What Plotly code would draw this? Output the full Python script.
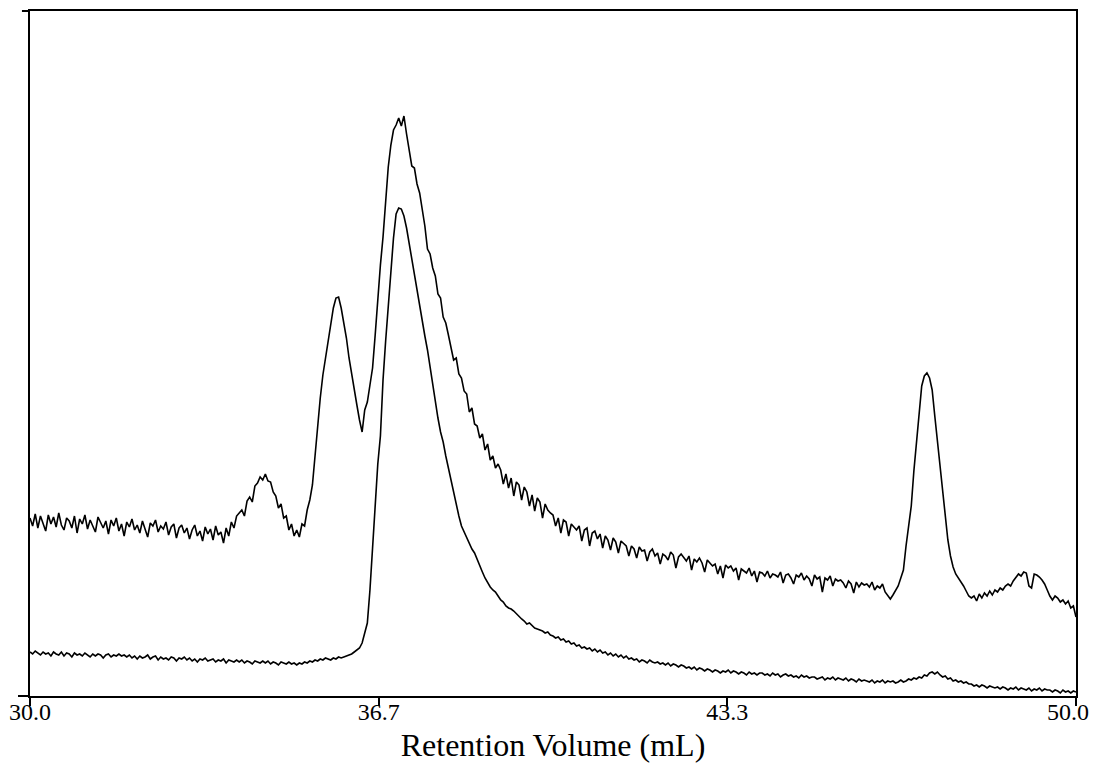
import numpy as np
import plotly.graph_objects as go

# detector traces sampled every 0.05 mL from 30.0 to 50.0 mL (arbitrary response units)
upper_trace = [
    178, 170, 182, 168, 180, 173, 165, 181, 172, 179,
    169, 183, 171, 166, 178, 175, 168, 180, 163, 177,
    172, 181, 167, 176, 170, 164, 179, 173, 168, 175,
    162, 176, 170, 178, 165, 172, 160, 174, 169, 177,
    166, 171, 163, 175, 168, 159, 173, 170, 176, 164,
    170, 167, 174, 161, 169, 172, 158, 168, 171, 163,
    168, 157, 166, 171, 160, 165, 155, 169, 162, 167,
    156, 170, 161, 164, 153, 168, 160, 174, 168, 180,
    183, 186, 180, 195, 199, 194, 210, 213, 219, 216,
    222, 215, 214, 204, 200, 188, 192, 178, 180, 166,
    172, 160, 166, 159, 172, 170, 186, 196, 211, 241,
    270, 298, 321, 338, 354, 371, 388, 398, 399, 388,
    374, 358, 338, 321, 306, 291, 276, 264, 286, 294,
    311, 328, 361, 399, 431, 459, 496, 529, 551, 566,
    571, 578, 570, 580, 562, 548, 530, 528, 512, 503,
    486, 470, 447, 442, 428, 420, 402, 398, 379, 373,
    361, 350, 336, 338, 322, 318, 305, 302, 284, 288,
    272, 270, 258, 262, 246, 252, 236, 240, 228, 232,
    226, 212, 222, 208, 218, 200, 214, 211, 196, 209,
    204, 190, 201, 185, 198, 194, 178, 192, 186, 183,
    181, 170, 178, 163, 176, 174, 160, 172, 169, 166,
    170, 155, 166, 168, 150, 163, 165, 157, 162, 148,
    160, 156, 146, 158, 154, 143, 155, 152, 150, 140,
    150, 147, 138, 149, 145, 146, 135, 144, 147, 140,
    143, 132, 142, 140, 136, 144, 141, 128, 139, 142,
    138, 135, 140, 126, 137, 134, 138, 133, 124, 136,
    133, 130, 132, 122, 130, 118, 131, 128, 130, 125,
    128, 116, 127, 125, 123, 128, 120, 125, 114, 124,
    123, 120, 125, 118, 122, 121, 119, 124, 113, 121,
    122, 118, 112, 121, 119, 123, 116, 120, 117, 110,
    121, 117, 119, 104, 118, 116, 120, 110, 117, 115,
    116, 113, 108, 115, 112, 103, 114, 109, 113, 111,
    112, 109, 114, 106, 110, 108, 112, 104, 100, 97,
    101, 106, 110, 118, 126, 150, 168, 190, 225, 255,
    280, 310, 320, 323, 318, 306, 280, 256, 230, 206,
    180, 156, 140, 129, 122, 118, 115, 110, 105, 100,
    98, 100, 95, 102, 98, 103, 100, 105, 101, 106,
    104, 108, 106, 110, 112, 110, 115, 118, 122, 120,
    124, 123, 110, 108, 122, 121, 119, 116, 112, 106,
    100, 96, 100, 98, 94, 96, 92, 95, 88, 90,
    79,
]

lower_trace = [
    44, 42, 45, 43, 41, 44, 42, 43, 40, 44,
    42, 41, 44, 40, 43, 42, 39, 43, 41, 42,
    40, 43, 41, 39, 42, 40, 42, 41, 38, 41,
    42, 39, 41, 40, 42, 40, 41, 39, 41, 38,
    40, 37, 40, 38, 39, 41, 37, 39, 40, 36,
    39, 37, 38, 36, 39, 38, 35, 38, 37, 39,
    36, 38, 35, 37, 34, 37, 36, 38, 35, 36,
    37, 34, 36, 35, 37, 33, 36, 35, 34, 36,
    34, 36, 33, 35, 34, 32, 35, 34, 33, 35,
    33, 35, 32, 34, 33, 31, 34, 33, 32, 34,
    32, 33, 31, 33, 32, 34, 33, 35, 34, 36,
    35, 37, 36, 38, 37, 36, 38, 37, 39, 38,
    39, 40, 41, 42, 44, 46, 48, 53, 62, 73,
    106, 146, 190, 232, 260, 316, 355, 390, 425, 458,
    482, 488, 487, 480, 468, 452, 436, 420, 404, 390,
    375, 360, 346, 328, 310, 295, 278, 264, 254, 240,
    228, 217, 202, 190, 180, 170, 164, 158, 152, 147,
    143, 136, 129, 124, 118, 113, 109, 106, 104, 100,
    96, 94, 90, 88, 87, 85, 82, 79, 77, 75,
    72, 73, 70, 68, 67, 66, 65, 63, 64, 61,
    60, 58, 59, 56, 57, 54, 55, 52, 53, 50,
    51, 48, 49, 47, 48, 45, 47, 44, 46, 43,
    44, 41, 43, 40, 42, 39, 41, 38, 40, 37,
    38, 36, 37, 34, 36, 35, 33, 36, 34, 33,
    34, 32, 33, 31, 33, 30, 32, 31, 29, 31,
    30, 28, 29, 27, 29, 26, 28, 27, 25, 27,
    26, 24, 26, 25, 23, 25, 24, 26, 23, 25,
    24, 22, 24, 23, 21, 24, 22, 23, 21, 23,
    23, 21, 22, 20, 23, 21, 22, 19, 21, 22,
    20, 21, 19, 20, 18, 21, 19, 20, 18, 19,
    19, 17, 18, 19, 16, 18, 17, 19, 16, 18,
    17, 16, 18, 15, 17, 16, 14, 17, 15, 16,
    15, 14, 16, 13, 15, 14, 16, 13, 15, 14,
    15, 13, 14, 16, 14, 15, 17, 16, 18, 17,
    19, 18, 21, 20, 23, 24, 22, 24, 21, 19,
    20, 17, 18, 15, 16, 14, 15, 13, 14, 12,
    12, 10, 11, 9, 11, 10, 8, 10, 9, 8,
    9, 7, 9, 8, 6, 8, 7, 9, 6, 8,
    7, 6, 8, 5, 7, 6, 8, 5, 7, 6,
    6, 4, 6, 5, 3, 6, 4, 5, 3, 5,
    4,
]

tick_vals = [30.0, 36.667, 43.333, 50.0]
tick_text = ["30.0", "36.7", "43.3", ""]
# last label is drawn separately so it can be nudged inside the page edge
end_label = "50.0"

volume = np.linspace(30.0, 50.0, len(upper_trace))

fig = go.Figure()
for trace in (upper_trace, lower_trace):
    fig.add_trace(go.Scatter(
        x=volume, y=trace, mode="lines",
        line=dict(color="black", width=1.6),
        showlegend=False, hoverinfo="skip",
    ))

# the page body adds an 8px margin, so the figure is sized/margined to compensate
fig.update_layout(
    width=1091, height=755,
    margin=dict(l=22, r=23, t=3, b=67),
    paper_bgcolor="white", plot_bgcolor="white",
    font=dict(family="Liberation Serif, Times New Roman, serif", color="black"),
)
# frame lines overhang the left axis a little, as in the original plot
fig.add_shape(type="line", xref="paper", yref="paper", x0=-0.0077, x1=0, y0=1, y1=1,
              line=dict(color="black", width=2))
fig.add_shape(type="line", xref="paper", yref="paper", x0=-0.0115, x1=0, y0=0, y1=0,
              line=dict(color="black", width=2))
fig.add_annotation(
    x=tick_vals[-1], xref="x", y=0, yref="paper",
    text=end_label, showarrow=False,
    xanchor="center", yanchor="middle", xshift=-8, yshift=-16,
    font=dict(size=24, color="black"),
)
fig.update_xaxes(
    range=[30, 50], tickvals=tick_vals, ticktext=tick_text,
    ticks="outside", ticklen=8, tickwidth=1.5, tickcolor="black",
    tickfont=dict(size=24), ticklabelstandoff=-15, ticklabeloverflow="allow",
    showline=True, linecolor="black", linewidth=2, mirror=True,
    showgrid=False, zeroline=False, automargin=False,
    title=dict(text="Retention Volume (mL)", font=dict(size=32), standoff=24),
)
fig.update_yaxes(
    range=[0, 685], showticklabels=False, ticks="", automargin=False,
    showline=True, linecolor="black", linewidth=2, mirror=True,
    showgrid=False, zeroline=False,
)

fig.write_html("out.html")
